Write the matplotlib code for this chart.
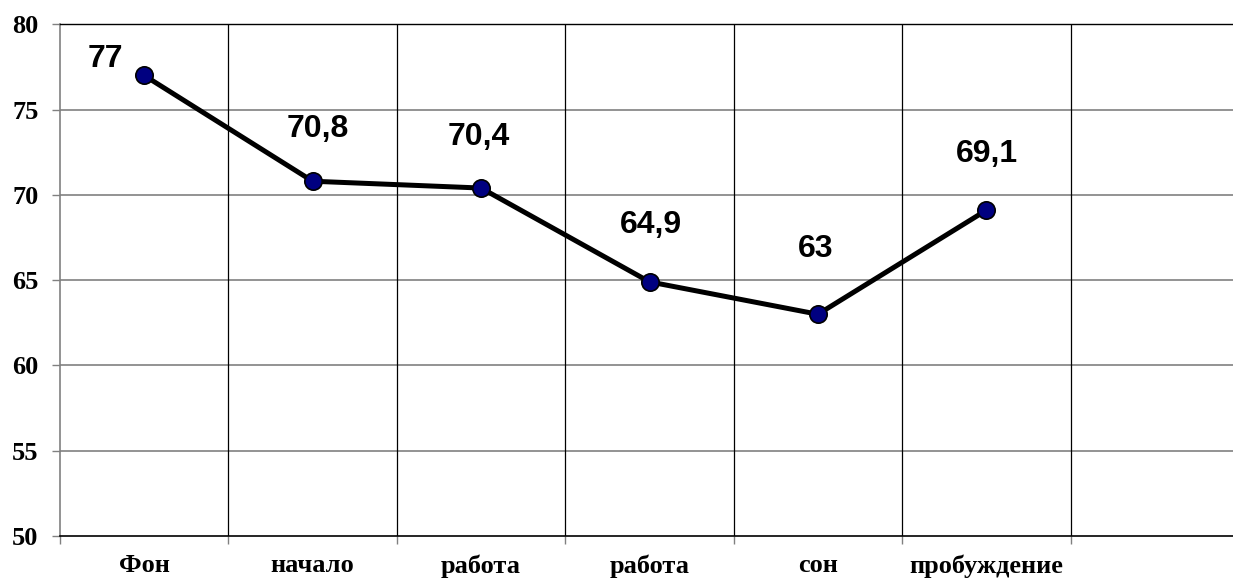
import matplotlib
matplotlib.use('Agg')
import matplotlib.pyplot as plt
from matplotlib.ticker import FixedLocator

categories = ['Фон', 'начало', 'работа', 'работа', 'сон', 'пробуждение']
values = [77, 70.8, 70.4, 64.9, 63, 69.1]
value_labels = ['77', '70,8', '70,4', '64,9', '63', '69,1']
y_ticks = [50, 55, 60, 65, 70, 75, 80]
n_slots = 7

# label offsets (points) relative to each marker
label_offsets = [(-28, 11.5), (3.6, 37.4), (-1.4, 36.7), (0.7, 41), (-1.4, 46.8), (0.7, 40.3)]

W, H = 1233, 583
fig = plt.figure(figsize=(W / 100, H / 100), dpi=100)
ax = fig.add_axes([60 / W, 47 / H, (1239 - 60) / W, 511.7 / H])

x = list(range(len(values)))
ax.set_xlim(-0.5, n_slots - 0.5)
ax.set_ylim(y_ticks[0], y_ticks[-1])

# grid
for yv in y_ticks[1:-1]:
    ax.axhline(yv, color='#808080', lw=1.2, zorder=1)
for k in range(1, n_slots):
    ax.axvline(k - 0.5, color='black', lw=0.9, zorder=1)

ax.plot(x, values, color='black', lw=3.6, marker='o', markersize=12.5,
        markerfacecolor='#000080', markeredgecolor='black', markeredgewidth=1.2, zorder=3,
        clip_on=False)

for xi, v, lab, off in zip(x, values, value_labels, label_offsets):
    ax.annotate(lab, (xi, v), xytext=off, textcoords='offset points',
                ha='center', va='center', fontsize=23, fontweight='bold',
                family='Liberation Sans', color='black')

for s in ['right']:
    ax.spines[s].set_visible(False)
ax.spines['left'].set_color('#808080')
ax.spines['left'].set_linewidth(1.2)
ax.spines['top'].set_color('black')
ax.spines['top'].set_linewidth(1.0)
ax.spines['bottom'].set_color('black')
ax.spines['bottom'].set_linewidth(1.2)

ax.set_yticks(y_ticks)
ax.set_yticklabels([str(t) for t in y_ticks], fontsize=19, fontweight='bold', family='Liberation Serif')
ax.tick_params(axis='y', direction='out', length=5.5, width=1, color='#808080', pad=10)

ax.set_xticks(x)
ax.set_xticklabels(categories, fontsize=19, fontweight='bold', family='Liberation Serif')
ax.xaxis.set_minor_locator(FixedLocator([k - 0.5 for k in range(n_slots + 1)]))
ax.tick_params(axis='x', which='major', length=0, pad=13)
ax.tick_params(axis='x', which='minor', direction='out', length=5.5, width=1, color='#808080')

fig.savefig('out.png', dpi=100)
